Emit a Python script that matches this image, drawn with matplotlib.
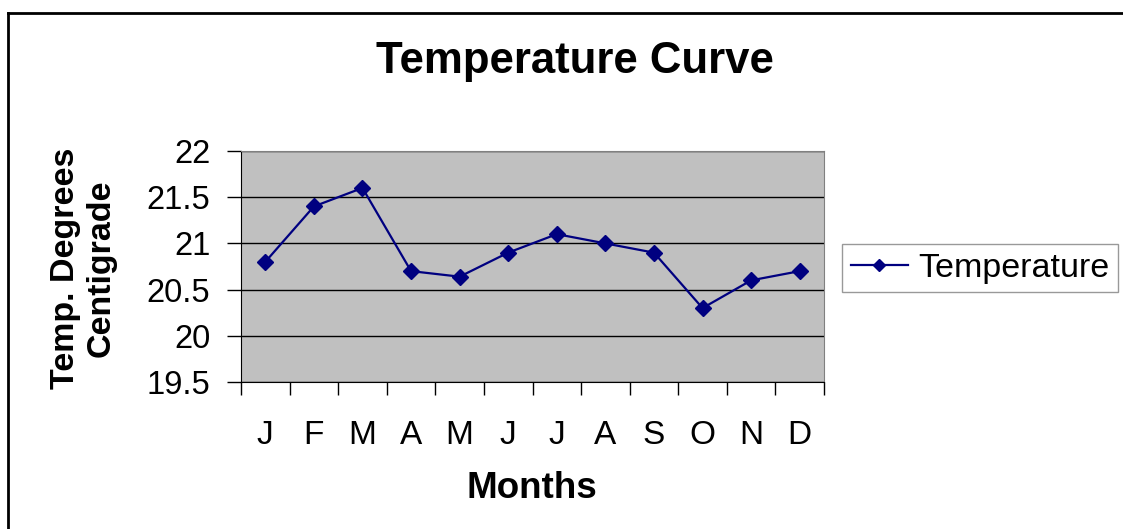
import matplotlib.pyplot as plt
import numpy as np
from matplotlib.lines import Line2D

plt.rcParams['font.family'] = ['Liberation Sans', 'DejaVu Sans']

# Дані
months = ['J', 'F', 'M', 'A', 'M', 'J', 'J', 'A', 'S', 'O', 'N', 'D']
temps = [20.8, 21.4, 21.6, 20.7, 20.64, 20.9, 21.1, 21.0, 20.9, 20.3, 20.6, 20.7]
y_ticks = [19.5, 20, 20.5, 21, 21.5, 22]
y_labels = ['19.5', '20', '20.5', '21', '21.5', '22']

fig = plt.figure(figsize=(11.23, 5.29), dpi=100)
ax = fig.add_axes([241 / 1123, 1 - 382 / 529, 583 / 1123, 231 / 529])
ax.set_facecolor('#C0C0C0')

x = np.arange(len(months))
ax.plot(x, temps, color='#000080', lw=1.6, marker='D', ms=8.5, label='Temperature')

ax.set_xlim(-0.5, len(months) - 0.5)
ax.set_ylim(19.5, 22)
ax.set_yticks(y_ticks)
ax.set_yticklabels(y_labels, fontsize=23.5)
ax.tick_params(axis='y', direction='out', length=10, width=1, pad=12)
ax.grid(axis='y', color='black', lw=1)

ax.set_xticks(x)
ax.set_xticklabels(months, fontsize=24)
ax.tick_params(axis='x', which='major', length=0, pad=27)
ax.set_xticks(np.arange(-0.5, len(months), 1), minor=True)
ax.tick_params(axis='x', which='minor', direction='out', length=9, width=1)

for s in ['top', 'right']:
    ax.spines[s].set_color('#808080')
for s in ['left', 'bottom']:
    ax.spines[s].set_color('black')

fig.text(575 / 1123, 1 - 61 / 529, 'Temperature Curve', fontsize=31.5, fontweight='bold',
         ha='center', va='center')
fig.text(532 / 1123, 1 - 489 / 529, 'Months', fontsize=26.5, fontweight='bold',
         ha='center', va='center')
fig.text(83 / 1123, 1 - 268 / 529, 'Temp. Degrees\nCentigrade', fontsize=24.5,
         fontweight='bold', ha='center', va='center', rotation=90, linespacing=1.2)

leg = ax.legend(loc='center left', bbox_to_anchor=(842 / 1123, 1 - 268 / 529),
                bbox_transform=fig.transFigure, fontsize=24.5, frameon=True,
                fancybox=False, borderpad=0.25, handlelength=1.7, handletextpad=0.3,
                borderaxespad=0, markerscale=0.7)
leg.get_frame().set_edgecolor('#808080')
leg.get_frame().set_linewidth(1)

# рамка навколо всієї діаграми
fig.add_artist(Line2D([8 / 1123, 8 / 1123], [0, 1 - 13 / 529], color='black', lw=2,
                      transform=fig.transFigure))
fig.add_artist(Line2D([8 / 1123, 1], [1 - 13 / 529, 1 - 13 / 529], color='black', lw=2,
                      transform=fig.transFigure))

fig.savefig('out.png', dpi=100)
